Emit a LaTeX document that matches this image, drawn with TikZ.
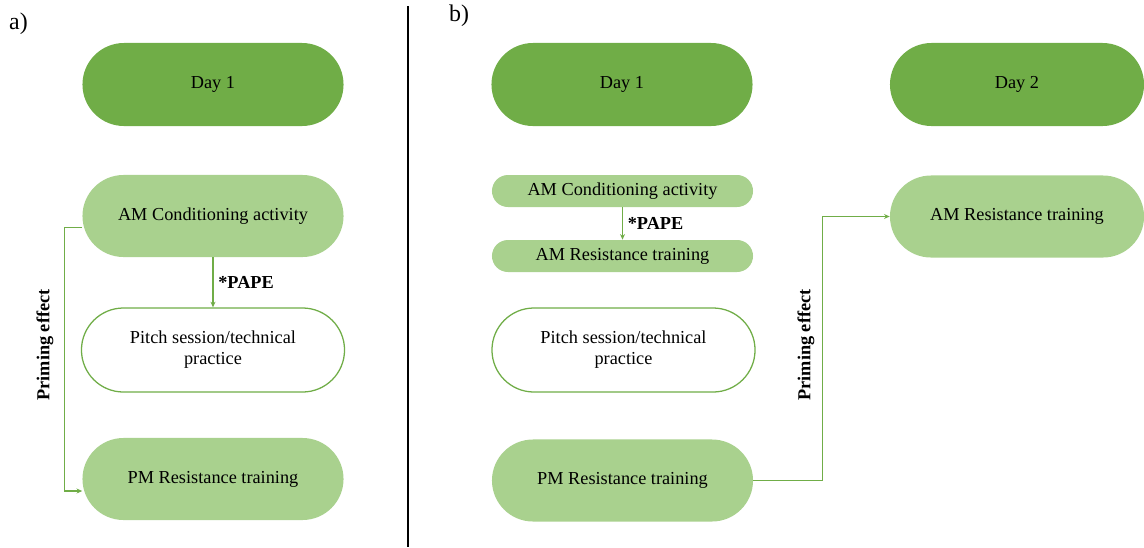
\documentclass[tikz,border=0pt]{standalone}
\usepackage{fontspec}
\setmainfont{Liberation Serif}
\usetikzlibrary{arrows.meta}
\definecolor{daygreen}{HTML}{70AD47}
\definecolor{stepgreen}{HTML}{A9D18E}

\begin{document}
\begin{tikzpicture}[x=0.025cm,y=-0.025cm,every node/.style={font=\fontsize{13}{15}\selectfont},
  daybox/.style={fill=daygreen,rounded corners=1.0375cm,minimum width=6.525cm,minimum height=2.075cm},
  stepbox/.style={fill=stepgreen,rounded corners=1.025cm,minimum width=6.525cm,minimum height=2.05cm},
  pitchbox/.style={draw=daygreen,line width=0.9pt,fill=white,rounded corners=1.05cm,minimum width=6.575cm,minimum height=2.1cm,align=center},
  thinbox/.style={fill=stepgreen,rounded corners=0.4cm,minimum width=6.525cm,minimum height=0.8cm,inner sep=1pt},
  link/.style={draw=daygreen,line width=0.9pt,-{Stealth[length=4pt,width=3.5pt]}},
  boldlab/.style={font=\fontsize{13}{15}\selectfont\bfseries}]
\useasboundingbox (0,0) rectangle (1144,547);
% panel a
\node[font=\fontsize{17}{19}\selectfont] (la) at (18.5,24) {a)};
\node[daybox] (d1a) at (213,84.5) {Day 1};
\node[stepbox] (ama) at (213,216) {AM Conditioning activity};
\node[pitchbox] (pa) at (213,350) {Pitch session/technical\\practice};
\node[stepbox] (pma) at (213,479) {PM Resistance training};
\draw[link] (ama.south) -- (pa.north) node[midway,right,boldlab] {*PAPE};
\draw[link] ([yshift=-0.28cm]ama.west) -- ++(-18,0) |- ([yshift=-0.3cm]pma.west);
\node[boldlab,rotate=90] (pea) at (45,345) {Priming effect};
% divider
\draw[line width=1pt] (408,6) -- (408,547);
% panel b
\node[font=\fontsize{17}{19}\selectfont] (lb) at (459,16) {b)};
\node[daybox] (d1b) at (622,84.5) {Day 1};
\node[daybox,minimum width=6.35cm] (d2b) at (1017,84.5) {Day 2};
\node[thinbox] (amb) at (622.5,191) {AM Conditioning activity};
\node[thinbox] (amrb) at (622.5,256) {AM Resistance training};
\draw[link] (amb.south) -- (amrb.north) node[midway,right,boldlab] {*PAPE};
\node[pitchbox] (pb) at (623.5,350) {Pitch session/technical\\practice};
\node[stepbox] (pmb) at (622.5,480.5) {PM Resistance training};
\node[stepbox,minimum width=6.35cm] (amr2) at (1017,216.5) {AM Resistance training};
\draw[link] (pmb.east) -- ++(69,0) |- (amr2.west);
\node[boldlab,rotate=90] (peb) at (806,345) {Priming effect};
\end{tikzpicture}
\end{document}
